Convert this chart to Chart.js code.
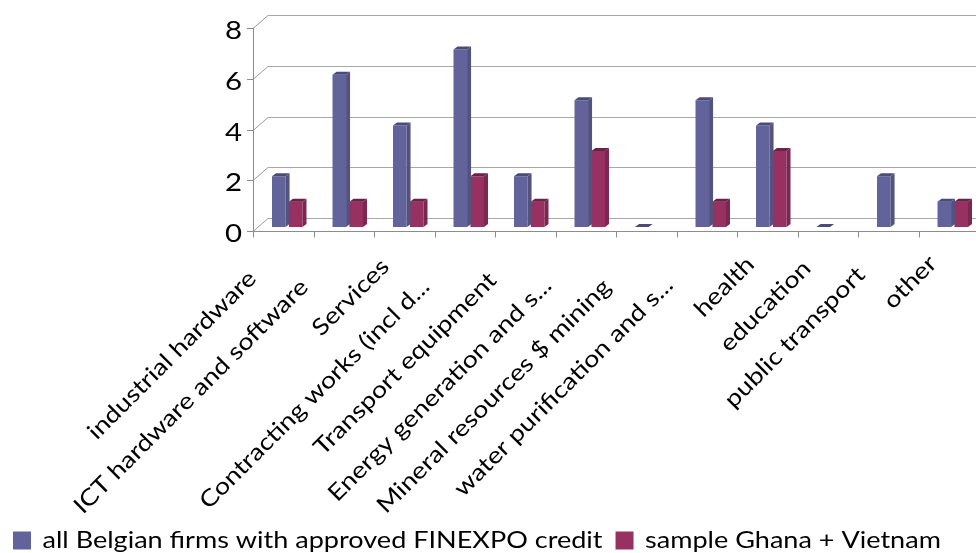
<!DOCTYPE html>
<html>
<head>
<meta charset="utf-8">
<script src="https://cdn.jsdelivr.net/npm/chart.js@4.4.1/dist/chart.umd.min.js"></script>
<style>
  html, body { margin: 0; padding: 0; background: #ffffff; overflow: hidden; }
  #wrap { position: relative; width: 976px; height: 553px; overflow: hidden; }
  canvas { display: block; }
</style>
</head>
<body>
<div id="wrap"><canvas id="chart" width="990" height="553"></canvas></div>
<script>
// Sectors
const categories = [
  'industrial hardware',
  'ICT hardware and software',
  'Services',
  'Contracting works (incl d...',
  'Transport equipment',
  'Energy generation and s...',
  'Mineral resources $ mining',
  'water purification and s...',
  'health',
  'education',
  'public transport',
  'other'
];

// Number of firms per sector
const belgianFirms = [2, 6, 4, 7, 2, 5, 0, 5, 4, 0, 2, 1];
const ghanaVietnam = [1, 1, 1, 2, 1, 3, null, 1, 3, null, null, 1];

const seriesNames = [
  'all Belgian firms with approved FINEXPO credit',
  'sample Ghana + Vietnam'
];

const yTicks = [0, 2, 4, 6, 8];

const FONT = 'Lato, "Open Sans", sans-serif';

// Lettering on this chart is widened along its baseline; slanted category
// names also sit back from their anchor in proportion to their length.
const TEXT_STRETCH = 1.176;
const SLANT_LAG = 0.13;
(function () {
  const proto = CanvasRenderingContext2D.prototype;
  const baseFill = proto.fillText;
  const baseMeasure = proto.measureText;
  const stretched = ctx => ctx.canvas && ctx.canvas.id === 'chart';
  proto.fillText = function (text, x, y, maxWidth) {
    if (!stretched(this)) {
      return maxWidth === undefined ? baseFill.call(this, text, x, y) : baseFill.call(this, text, x, y, maxWidth);
    }
    let shift = 0;
    const t = this.getTransform();
    if (Math.abs(t.b) > 1e-6 && this.textAlign === 'right') {
      shift = -SLANT_LAG * baseMeasure.call(this, String(text)).width * TEXT_STRETCH;
    }
    this.save();
    this.translate(x + shift, y);
    this.scale(TEXT_STRETCH, 1);
    if (maxWidth === undefined) baseFill.call(this, text, 0, 0);
    else baseFill.call(this, text, 0, 0, maxWidth / TEXT_STRETCH);
    this.restore();
  };
  proto.measureText = function (text) {
    const m = baseMeasure.call(this, text);
    if (!stretched(this)) return m;
    return {
      width: m.width * TEXT_STRETCH,
      actualBoundingBoxLeft: m.actualBoundingBoxLeft * TEXT_STRETCH,
      actualBoundingBoxRight: m.actualBoundingBoxRight * TEXT_STRETCH,
      actualBoundingBoxAscent: m.actualBoundingBoxAscent,
      actualBoundingBoxDescent: m.actualBoundingBoxDescent,
      fontBoundingBoxAscent: m.fontBoundingBoxAscent,
      fontBoundingBoxDescent: m.fontBoundingBoxDescent
    };
  };
})();

// Depth offsets: back wall and front edge relative to the bar plane
const BACK = { dx: 11, dy: -9 };
const FRONT = { dx: -4, dy: 4 };
const BAR_DEPTH = { dx: 4, dy: 3 };

const faceColors = [
  { front: '#62639b', side: '#52537f', top: '#4a4b78' },
  { front: '#963162', side: '#7c2750', top: '#6c2146' }
];

function seg(ctx, x1, y1, x2, y2) {
  ctx.beginPath();
  ctx.moveTo(x1, y1);
  ctx.lineTo(x2, y2);
  ctx.stroke();
}

function poly(ctx, pts, color) {
  ctx.beginPath();
  ctx.moveTo(pts[0][0], pts[0][1]);
  for (let i = 1; i < pts.length; i++) ctx.lineTo(pts[i][0], pts[i][1]);
  ctx.closePath();
  ctx.fillStyle = color;
  ctx.fill();
}

// Back wall, floor edges and the front value axis; bar sides and tops
const wallsPlugin = {
  id: 'walls',
  beforeDatasetsDraw(chart) {
    const { ctx, chartArea, scales } = chart;
    const x = scales.x, y = scales.y;
    const L = chartArea.left;
    const W = chart.width;
    ctx.save();
    ctx.lineWidth = 1;

    yTicks.forEach(v => {
      const py = Math.round(y.getPixelForValue(v)) + 0.5;
      ctx.strokeStyle = '#a8a8a8';
      seg(ctx, L + BACK.dx, py + BACK.dy, W, py + BACK.dy);
      ctx.strokeStyle = '#9a9a9a';
      seg(ctx, L + FRONT.dx, py + FRONT.dy, L + BACK.dx, py + BACK.dy);
      ctx.strokeStyle = '#8c8c8c';
      seg(ctx, L + FRONT.dx - 6, py + FRONT.dy, L + FRONT.dx, py + FRONT.dy);
    });

    const yTop = Math.round(y.getPixelForValue(yTicks[yTicks.length - 1])) + FRONT.dy;
    const yZero = Math.round(y.getPixelForValue(0)) + FRONT.dy + 0.5;
    const ax = Math.round(L + FRONT.dx) + 0.5;
    ctx.strokeStyle = '#8c8c8c';
    seg(ctx, ax, yTop, ax, yZero + 0.5);
    seg(ctx, ax, yZero, W, yZero);

    const step = x.getPixelForValue(1) - x.getPixelForValue(0);
    const first = x.getPixelForValue(0) - step / 2 + FRONT.dx;
    for (let i = 0; i <= categories.length; i++) {
      const tx = Math.round(first + i * step) + 0.5;
      seg(ctx, tx, yZero, tx, yZero + 6);
    }
    ctx.restore();
  },
  afterDatasetDraw(chart, args) {
    const { ctx } = chart;
    const meta = args.meta;
    const colors = faceColors[args.index];
    const data = chart.data.datasets[args.index].data;
    ctx.save();
    meta.data.forEach((el, i) => {
      if (data[i] === null || data[i] === undefined) return;
      const p = el.getProps(['x', 'y', 'base', 'width'], true);
      const left = p.x - p.width / 2;
      const right = p.x + p.width / 2;
      const dx = BAR_DEPTH.dx, dy = BAR_DEPTH.dy;
      poly(ctx, [[right, p.y], [right + dx, p.y - dy], [right + dx, p.base - dy], [right, p.base]], colors.side);
      poly(ctx, [[left, p.y], [left + dx, p.y - dy], [right + dx, p.y - dy], [right, p.y]], colors.top);
    });
    ctx.restore();
  }
};

const PLOT_BOTTOM = 227;
const PAD_BOTTOM = -9;

new Chart(document.getElementById('chart'), {
  type: 'bar',
  data: {
    labels: categories,
    datasets: [
      {
        label: seriesNames[0],
        data: belgianFirms,
        backgroundColor: faceColors[0].front,
        borderWidth: 0,
        categoryPercentage: 0.56,
        barPercentage: 0.8
      },
      {
        label: seriesNames[1],
        data: ghanaVietnam,
        backgroundColor: faceColors[1].front,
        borderWidth: 0,
        categoryPercentage: 0.56,
        barPercentage: 0.8
      }
    ]
  },
  options: {
    responsive: false,
    animation: false,
    devicePixelRatio: 1,
    layout: { padding: { left: 0, right: 7, top: 24, bottom: PAD_BOTTOM } },
    plugins: {
      tooltip: { enabled: false },
      legend: {
        position: 'bottom',
        align: 'start',
        labels: {
          boxWidth: 18,
          boxHeight: 18,
          padding: 13,
          color: '#000000',
          font: { family: FONT, size: 23 }
        }
      }
    },
    scales: {
      x: {
        grid: { display: false, drawTicks: false },
        border: { display: false },
        ticks: {
          autoSkip: false,
          minRotation: 45,
          maxRotation: 45,
          padding: 17,
          labelOffset: -14,
          color: '#000000',
          font: { family: FONT, size: 23 }
        },
        afterFit(scale) {
          const chart = scale.chart;
          scale.height = chart.height - PAD_BOTTOM - chart.legend.height - PLOT_BOTTOM;
          scale.paddingLeft = 0;
          scale.paddingRight = 0;
        }
      },
      y: {
        min: 0,
        max: 8,
        grid: { display: false, drawTicks: false },
        border: { display: false },
        ticks: {
          stepSize: 2,
          padding: 15,
          labelOffset: 7,
          color: '#000000',
          font: { family: FONT, size: 25 }
        },
        afterFit(scale) {
          scale.width = 257;
          scale.paddingTop = 0;
          scale.paddingBottom = 0;
        }
      }
    }
  },
  plugins: [wallsPlugin]
});
</script>
</body>
</html>
